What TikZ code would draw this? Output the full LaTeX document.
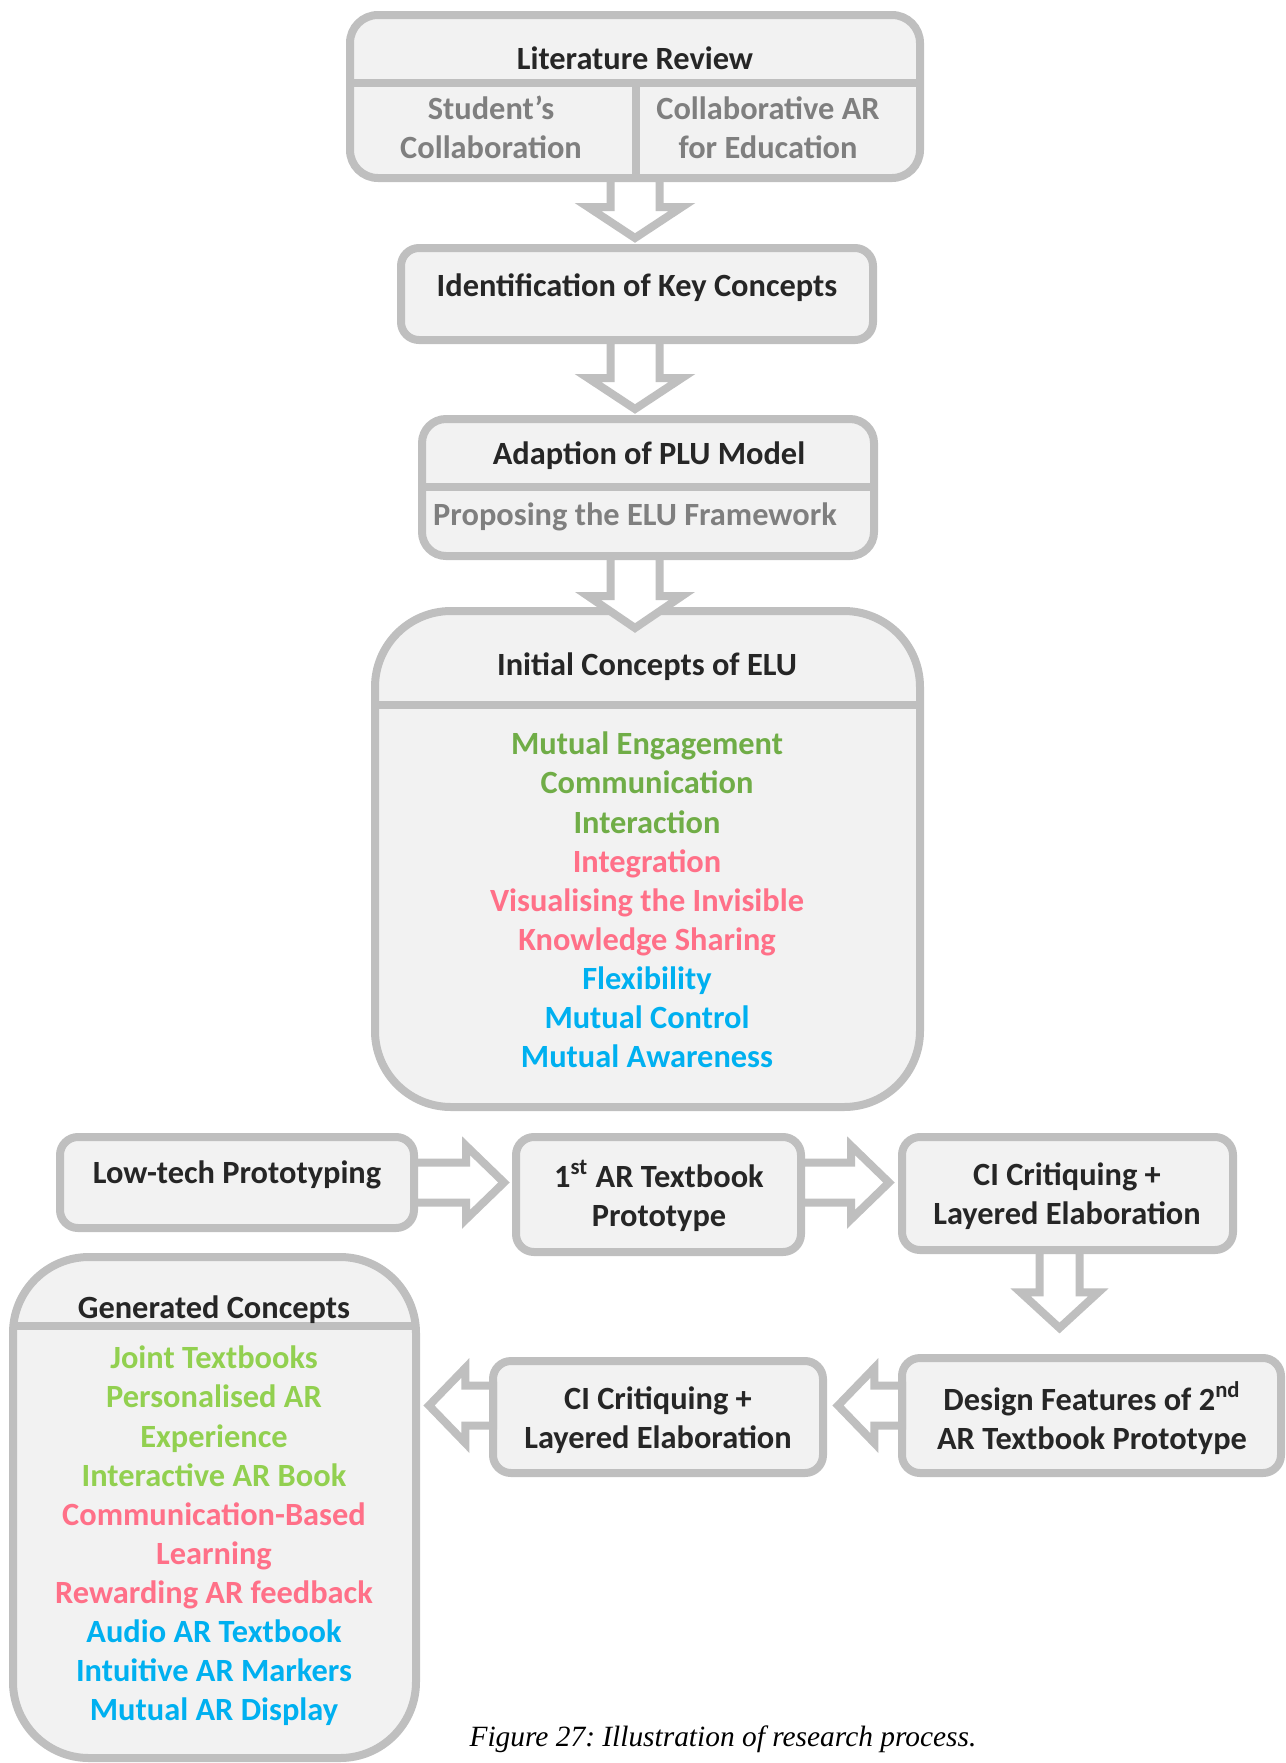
\documentclass[tikz,border=0pt]{standalone}
\usepackage{fontspec}
\setmainfont{Carlito}
\newfontfamily\captionfont{Liberation Serif}
\usetikzlibrary{calc,fit}
\frenchspacing

\definecolor{panelfill}{HTML}{F2F2F2}
\definecolor{panelline}{HTML}{BFBFBF}
\definecolor{headtext}{HTML}{262626}
\definecolor{subtext}{HTML}{7F7F7F}
\definecolor{leafgreen}{HTML}{70AD47}
\definecolor{limegreen}{HTML}{92D050}
\definecolor{rosepink}{HTML}{FF7088}
\definecolor{skyblue}{HTML}{00B0F0}

\tikzset{
  panel/.style={draw=panelline, line width=4pt, fill=panelfill, inner sep=0pt, outer sep=0pt, rounded corners=#1},
  panel/.default=9pt,
  rule/.style={draw=panelline, line width=4pt},
  arrowline/.style={draw=panelline, line width=4pt, fill=white, line join=miter},
  title/.style={font=\bfseries\fontsize{16.2}{19.5}\selectfont, text=headtext, align=center, inner sep=0pt},
  subtitle/.style={title, text=subtext},
  itemlist/.style={font=\bfseries\fontsize{16.2}{19.55}\selectfont, align=center, inner sep=0pt},
}

% hollow block arrow: tail point, tip point, shaft half-width, head half-width, head length
\newcommand{\blockarrow}[5]{%
  \coordinate (ba-base) at ($(#2)!#5!(#1)$);
  \draw[arrowline] ($(#1)!#3!90:(#2)$) -- ($(ba-base)!#3!90:(#2)$) -- ($(ba-base)!#4!90:(#2)$) -- (#2)
    -- ($(ba-base)!#4!270:(#2)$) -- ($(ba-base)!#3!270:(#2)$) -- ($(#1)!#3!270:(#2)$) -- cycle;
}

\begin{document}
\begin{tikzpicture}[x=0.5pt,y=-0.5pt]
\useasboundingbox (0,0) rectangle (1286,1763);

% ---- top column ----
\node[panel=14pt, fit={(350,15) (920,178)}] (lit) {};
\coordinate (litsplit) at (636,83);
\draw[rule] (lit.west |- litsplit) -- (lit.east |- litsplit);
\draw[rule] (litsplit) -- (litsplit |- lit.south);
\node[title] (lit-t) at (635,58) {Literature Review};
\node[subtitle] (lit-a) at (491,127) {Student’s\\Collaboration};
\node[subtitle] (lit-b) at (768,128) {Collaborative AR\\for Education};

\node[panel, fit={(401,248) (873,340)}] (key) {};
\node[title] (key-t) at (637,288) {Identification of Key Concepts};

\node[panel=12pt, fit={(422,419) (874,556)}] (plu) {};
\coordinate (plusplit) at (648,487);
\draw[rule] (plu.west |- plusplit) -- (plu.east |- plusplit);
\node[title] (plu-t) at (649,456) {Adaption of PLU Model};
\node[subtitle] (plu-s) at (635,517) {Proposing the ELU Framework};

\node[panel=38pt, fit={(375,611) (920,1107)}] (elu) {};
\coordinate (elusplit) at (648,705);
\draw[rule] (elu.west |- elusplit) -- (elu.east |- elusplit);
\node[title] (elu-t) at (647,667) {Initial Concepts of ELU};
\node[itemlist] (elu-l) at (647,900) {%
  \textcolor{leafgreen}{Mutual Engagement}\\
  \textcolor{leafgreen}{Communication}\\
  \textcolor{leafgreen}{Interaction}\\
  \textcolor{rosepink}{Integration}\\
  \textcolor{rosepink}{Visualising the Invisible}\\
  \textcolor{rosepink}{Knowledge Sharing}\\
  \textcolor{skyblue}{Flexibility}\\
  \textcolor{skyblue}{Mutual Control}\\
  \textcolor{skyblue}{Mutual Awareness}};

% ---- prototyping loop ----
\node[panel, fit={(60,1137) (414,1228)}] (low) {};
\node[title] (low-t) at (237,1175) {Low-tech Prototyping};

\node[panel, fit={(516,1137) (801,1252)}] (proto) {};
\node[title] (proto-t) at (659,1196) {1\textsuperscript{st} AR Textbook\\Prototype};

\node[panel, fit={(902,1137) (1233,1250)}] (crit1) {};
\node[title] (crit1-t) at (1067,1196) {CI Critiquing +\\Layered Elaboration};

\node[panel, fit={(902,1358) (1281,1473)}] (design) {};
\node[title] (design-t) at (1092,1418) {Design Features of 2\textsuperscript{nd}\\AR Textbook Prototype};

\node[panel, fit={(493,1361) (823,1473)}] (crit2) {};
\node[title] (crit2-t) at (658,1420) {CI Critiquing +\\Layered Elaboration};

\node[panel=38pt, fit={(13,1257) (416,1758)}] (gen) {};
\coordinate (gensplit) at (214,1326);
\draw[rule] (gen.west |- gensplit) -- (gen.east |- gensplit);
\node[title] (gen-t) at (214,1310) {Generated Concepts};
\node[itemlist] (gen-l) at (214,1536) {%
  \textcolor{limegreen}{Joint Textbooks}\\
  \textcolor{limegreen}{Personalised AR}\\
  \textcolor{limegreen}{Experience}\\
  \textcolor{limegreen}{Interactive AR Book}\\
  \textcolor{rosepink}{Communication-Based}\\
  \textcolor{rosepink}{Learning}\\
  \textcolor{rosepink}{Rewarding AR feedback}\\
  \textcolor{skyblue}{Audio AR Textbook}\\
  \textcolor{skyblue}{Intuitive AR Markers}\\
  \textcolor{skyblue}{Mutual AR Display}};

% ---- block arrows ----
\coordinate (a1tip) at ($(lit.south |- key.north)+(0,-10)$);
\blockarrow{lit.south}{a1tip}{12.25pt}{23.5pt}{15.5pt}

\coordinate (a2tail) at (lit.south |- key.south);
\coordinate (a2tip) at ($(lit.south |- plu.north)+(0,-10)$);
\blockarrow{a2tail}{a2tip}{12.25pt}{23.5pt}{15.5pt}

\coordinate (a3tail) at (lit.south |- plu.south);
\coordinate (a3tip) at ($(lit.south |- elu.north)+(0,17)$);
\blockarrow{a3tail}{a3tip}{12.25pt}{23.5pt}{16pt}

\coordinate (a5tip) at ($(low.east -| proto.west)+(-12,0)$);
\blockarrow{low.east}{a5tip}{10pt}{18.4pt}{19pt}

\coordinate (a6tail) at (low.east -| proto.east);
\coordinate (a6tip) at ($(low.east -| crit1.west)+(-13,0)$);
\blockarrow{a6tail}{a6tip}{10pt}{18.4pt}{19pt}

\coordinate (a7tail) at ($(crit1.south)+(-8,0)$);
\coordinate (a7tip) at ($(crit1.south |- design.north)+(-8,-30)$);
\blockarrow{a7tail}{a7tip}{10pt}{19.4pt}{17.8pt}

\coordinate (a8tail) at ($(design.west)+(0,-10)$);
\coordinate (a8tip) at ($(design.west -| crit2.east)+(15,-10)$);
\blockarrow{a8tail}{a8tip}{10pt}{18.8pt}{18.2pt}

\coordinate (a9tail) at ($(design.west -| crit2.west)+(0,-10)$);
\coordinate (a9tip) at ($(design.west -| gen.east)+(13,-10)$);
\blockarrow{a9tail}{a9tip}{10pt}{18.8pt}{18.2pt}

% ---- caption ----
\node[font=\captionfont\itshape\fontsize{14.7}{17}\selectfont, inner sep=0pt] (caption) at (723,1739) {Figure 27: Illustration of research process.};
\end{tikzpicture}
\end{document}
